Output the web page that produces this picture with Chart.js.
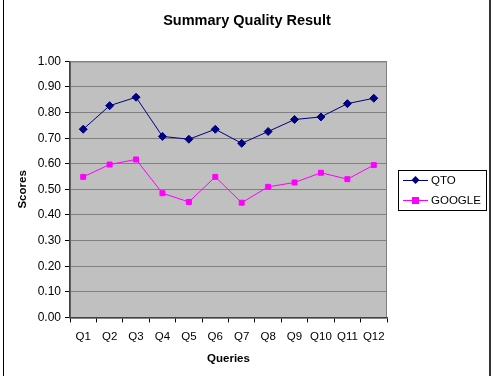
<!DOCTYPE html>
<html>
<head>
<meta charset="utf-8">
<script src="https://cdn.jsdelivr.net/npm/chart.js@4"></script>
<style>
  html, body { margin: 0; padding: 0; background: #fff; }
  #wrap { width: 494px; height: 376px; }
</style>
</head>
<body>
<div id="wrap"><canvas id="chart" width="494" height="376"></canvas></div>
<script>
const categories = ['Q1', 'Q2', 'Q3', 'Q4', 'Q5', 'Q6', 'Q7', 'Q8', 'Q9', 'Q10', 'Q11', 'Q12'];
const qtoScores = [0.735, 0.827, 0.86, 0.707, 0.696, 0.735, 0.68, 0.726, 0.773, 0.783, 0.835, 0.856];
const googleScores = [0.549, 0.597, 0.617, 0.485, 0.451, 0.549, 0.448, 0.51, 0.527, 0.565, 0.54, 0.595];
const seriesNames = ['QTO', 'GOOGLE'];

const FONT = "'Liberation Sans', Arial, sans-serif";

// grey plot area, side frame lines and a boxed legend like the old Excel look
const excelLook = {
    id: 'excelLook',
    beforeDraw(chart) {
        const { ctx, chartArea: a } = chart;
        ctx.save();
        ctx.fillStyle = '#c0c0c0';
        ctx.fillRect(a.left, a.top, a.right - a.left, a.bottom - a.top);
        ctx.strokeStyle = '#808080';
        ctx.lineWidth = 1;
        ctx.strokeRect(a.left + 0.5, a.top + 0.5, a.right - a.left - 1, a.bottom - a.top);
        ctx.restore();
    },
    afterDraw(chart) {
        const { ctx, chartArea: a } = chart;
        ctx.save();
        ctx.fillStyle = '#000';
        ctx.fillRect(3, 0, 1, chart.height);
        ctx.fillStyle = '#333';
        ctx.fillRect(489, 0, 2, chart.height);

        // legend
        const bx = a.right + 11, bw = 88, bh = 40;
        const by = Math.round((a.top + a.bottom) / 2 - bh / 2) + 1;
        ctx.strokeStyle = '#000';
        ctx.lineWidth = 1;
        ctx.strokeRect(bx + 0.5, by + 0.5, bw, bh);
        ctx.font = '11.5px ' + FONT;
        ctx.textBaseline = 'middle';
        chart.data.datasets.forEach((ds, i) => {
            const y = by + 10 + i * 20;
            ctx.strokeStyle = ds.borderColor;
            ctx.lineWidth = 1;
            ctx.beginPath();
            ctx.moveTo(bx + 5, y + 0.5);
            ctx.lineTo(bx + 30, y + 0.5);
            ctx.stroke();
            ctx.fillStyle = ds.borderColor;
            const cx = bx + 17.5;
            if (ds.pointStyle === 'rectRot') {
                ctx.beginPath();
                ctx.moveTo(cx, y - 4);
                ctx.lineTo(cx + 4, y);
                ctx.lineTo(cx, y + 4);
                ctx.lineTo(cx - 4, y);
                ctx.closePath();
                ctx.fill();
            } else {
                ctx.fillRect(cx - 3.5, y - 3, 7, 7);
            }
            ctx.fillStyle = '#000';
            ctx.fillText(ds.label, bx + 33, y + 1);
        });
        ctx.restore();
    }
};

new Chart(document.getElementById('chart').getContext('2d'), {
    type: 'line',
    data: {
        labels: categories,
        datasets: [{
            label: seriesNames[0],
            data: qtoScores,
            borderColor: '#000080',
            backgroundColor: '#000080',
            borderWidth: 1,
            pointStyle: 'rectRot',
            pointRadius: 4,
            pointHoverRadius: 4,
            tension: 0,
            fill: false
        }, {
            label: seriesNames[1],
            data: googleScores,
            borderColor: '#ff00ff',
            backgroundColor: '#ff00ff',
            borderWidth: 1,
            pointStyle: 'rect',
            pointRadius: 3.5,
            pointHoverRadius: 3.5,
            tension: 0,
            fill: false
        }]
    },
    options: {
        responsive: false,
        animation: false,
        devicePixelRatio: 1,
        layout: { padding: { left: 0, right: 0, top: 0, bottom: 10 } },
        plugins: {
            legend: { display: false },
            tooltip: { enabled: false },
            title: {
                display: true,
                text: 'Summary Quality Result',
                color: '#000',
                font: { family: FONT, size: 14.5, weight: 'bold' },
                padding: { top: 12, bottom: 32 }
            }
        },
        scales: {
            x: {
                offset: true,
                grid: {
                    offset: true,
                    drawOnChartArea: false,
                    drawTicks: true,
                    tickLength: 5,
                    color: '#000'
                },
                border: { color: '#404040', width: 1.5 },
                ticks: { color: '#000', font: { family: FONT, size: 11.5 }, padding: 8, maxRotation: 0 },
                title: {
                    display: true,
                    text: 'Queries',
                    color: '#000',
                    font: { family: FONT, size: 11.5, weight: 'bold' },
                    padding: { top: 0, bottom: 0 }
                }
            },
            y: {
                min: 0,
                max: 1,
                afterFit(scale) { scale.width = 70; },
                grid: { color: '#808080', tickLength: 5, tickColor: '#000' },
                border: { color: '#404040', width: 1.5 },
                ticks: {
                    stepSize: 0.1,
                    color: '#000',
                    font: { family: FONT, size: 12 },
                    padding: 4,
                    callback: v => v.toFixed(2)
                },
                title: {
                    display: true,
                    text: 'Scores',
                    color: '#000',
                    font: { family: FONT, size: 11.5, weight: 'bold' },
                    padding: { top: 16, bottom: 0 }
                }
            },
            // empty strip on the right that leaves room for the legend box
            legendRoom: {
                type: 'linear',
                position: 'right',
                display: true,
                afterFit(scale) { scale.width = 107; },
                grid: { display: false },
                border: { display: false },
                ticks: { display: false }
            }
        }
    },
    plugins: [excelLook]
});
</script>
</body>
</html>
